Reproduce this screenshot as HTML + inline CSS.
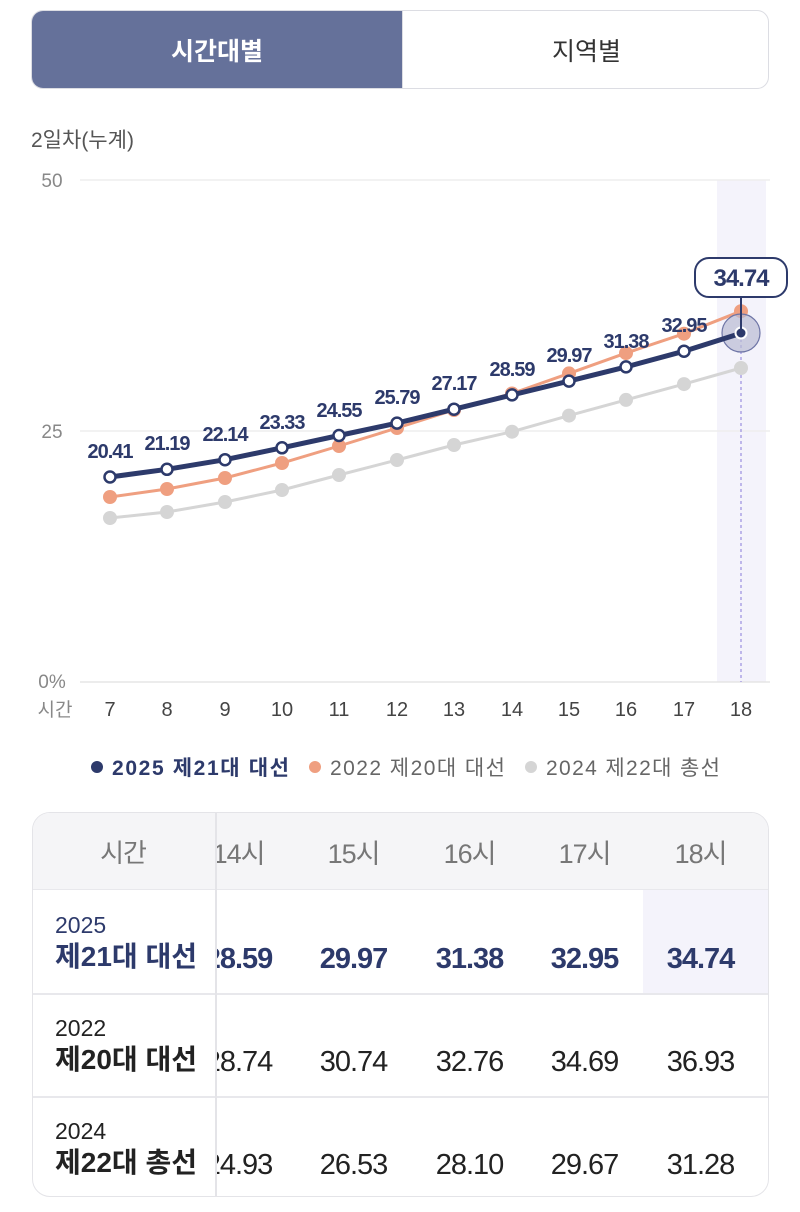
<!DOCTYPE html>
<html><head><meta charset="utf-8"><style>
*{margin:0;padding:0;box-sizing:border-box}
body{width:800px;height:1212px;background:#fff;font-family:"Liberation Sans","Noto Sans CJK KR",sans-serif;position:relative;overflow:hidden}
.abs{position:absolute}
.tabs{left:31px;top:10px;width:738px;height:79px;border:1px solid #dcdde3;border-radius:12px;overflow:hidden}
.tab{position:absolute;top:0;height:100%;display:flex;align-items:center;justify-content:center;font-size:25px}
.tbl{left:32px;top:812px;width:737px;height:385px;border:1.5px solid #e4e4e8;border-radius:18px;overflow:hidden}
.cell{position:absolute;display:flex;align-items:center;justify-content:center;font-size:29px;color:#222;letter-spacing:-1px}
.rowl{position:absolute;left:22px;font-size:23px;line-height:32px}
</style></head><body>
<div class="abs tabs">
 <div class="tab" style="left:0;width:370px;background:#65719a;color:#fff;font-weight:bold">시간대별</div>
 <div class="tab" style="left:370px;width:368px;color:#333;border-left:1px solid #dcdde3">지역별</div>
</div>
<div class="abs" style="left:31px;top:124px;font-size:21px;color:#555">2일차(누계)</div>
<svg class="abs" style="left:0;top:0" width="800" height="800">
 <rect x="717" y="180" width="49" height="502" fill="#f4f3fb"/>
 <line x1="80" y1="180" x2="770" y2="180" stroke="#eee" stroke-width="1.5"/>
 <line x1="80" y1="431" x2="770" y2="431" stroke="#eee" stroke-width="1.5"/>
 <line x1="80" y1="682" x2="770" y2="682" stroke="#e5e5e5" stroke-width="1.5"/>
 <g font-size="19" fill="#888">
  <text x="52" y="187" text-anchor="middle">50</text>
  <text x="52" y="438" text-anchor="middle">25</text>
  <text x="52" y="688" text-anchor="middle">0%</text>
  <text x="55" y="716" text-anchor="middle">시간</text>
 </g>
 <g font-size="20" fill="#444" text-anchor="middle">
  <text x="110" y="716">7</text><text x="167" y="716">8</text><text x="225" y="716">9</text><text x="282" y="716">10</text><text x="339" y="716">11</text><text x="397" y="716">12</text><text x="454" y="716">13</text><text x="512" y="716">14</text><text x="569" y="716">15</text><text x="626" y="716">16</text><text x="684" y="716">17</text><text x="741" y="716">18</text>
 </g>
 <line x1="741" y1="333" x2="741" y2="682" stroke="#9a8fe0" stroke-width="1.2" stroke-dasharray="3,3"/>
 <polyline fill="none" stroke="#d5d5d5" stroke-width="3" points="110,518 167,512 225,502 282,490 339,475 397,460 454,445 512,431.7 569,415.6 626,399.9 684,384.1 741,368"/>
 <g fill="#d5d5d5"><circle cx="110" cy="518" r="7"/><circle cx="167" cy="512" r="7"/><circle cx="225" cy="502" r="7"/><circle cx="282" cy="490" r="7"/><circle cx="339" cy="475" r="7"/><circle cx="397" cy="460" r="7"/><circle cx="454" cy="445" r="7"/><circle cx="512" cy="431.7" r="7"/><circle cx="569" cy="415.6" r="7"/><circle cx="626" cy="399.9" r="7"/><circle cx="684" cy="384.1" r="7"/><circle cx="741" cy="368" r="7"/></g>
 <polyline fill="none" stroke="#ef9f80" stroke-width="3" points="110,497 167,489 225,478 282,463 339,446 397,428 454,410 512,393.5 569,373.4 626,353.1 684,333.7 741,311.2"/>
 <g fill="#ef9f80"><circle cx="110" cy="497" r="7"/><circle cx="167" cy="489" r="7"/><circle cx="225" cy="478" r="7"/><circle cx="282" cy="463" r="7"/><circle cx="339" cy="446" r="7"/><circle cx="397" cy="428" r="7"/><circle cx="454" cy="410" r="7"/><circle cx="512" cy="393.5" r="7"/><circle cx="569" cy="373.4" r="7"/><circle cx="626" cy="353.1" r="7"/><circle cx="684" cy="333.7" r="7"/><circle cx="741" cy="311.2" r="7"/></g>
 <circle cx="741" cy="333" r="19" fill="#b9bbd3" fill-opacity="0.7" stroke="#6e75a6" stroke-width="1.2"/>
 <polyline fill="none" stroke="#2d3a6b" stroke-width="5" points="110,477 167,469.3 225,459.7 282,447.8 339,435.5 397,423.1 454,409.2 512,394.9 569,381.1 626,366.9 684,351.2 741,333.2"/>
 <g fill="#fff" stroke="#2d3a6b" stroke-width="2.5"><circle cx="110" cy="477" r="5.5"/><circle cx="167" cy="469.3" r="5.5"/><circle cx="225" cy="459.7" r="5.5"/><circle cx="282" cy="447.8" r="5.5"/><circle cx="339" cy="435.5" r="5.5"/><circle cx="397" cy="423.1" r="5.5"/><circle cx="454" cy="409.2" r="5.5"/><circle cx="512" cy="394.9" r="5.5"/><circle cx="569" cy="381.1" r="5.5"/><circle cx="626" cy="366.9" r="5.5"/><circle cx="684" cy="351.2" r="5.5"/></g>
 <circle cx="741" cy="333" r="5.5" fill="#2d3a6b" stroke="#fff" stroke-width="2"/>
 <g font-size="20" font-weight="bold" fill="#2d3a6b" text-anchor="middle" letter-spacing="-1">
  <text x="110" y="458">20.41</text><text x="167" y="450">21.19</text><text x="225" y="441">22.14</text><text x="282" y="429">23.33</text><text x="339" y="417">24.55</text><text x="397" y="404">25.79</text><text x="454" y="390">27.17</text><text x="512" y="376">28.59</text><text x="569" y="362">29.97</text><text x="626" y="348">31.38</text><text x="684" y="332">32.95</text>
 </g>
 <line x1="741" y1="297" x2="741" y2="333" stroke="#2d3a6b" stroke-width="2"/>
 <rect x="695" y="258" width="92" height="39" rx="14" fill="#fff" stroke="#2d3a6b" stroke-width="2"/>
 <text x="741" y="286" font-size="24" font-weight="bold" fill="#2d3a6b" text-anchor="middle" letter-spacing="-1">34.74</text>
 <g font-size="21">
  <circle cx="97" cy="767" r="6" fill="#2d3a6b"/><text x="112" y="775" fill="#2d3a6b" font-weight="bold" textLength="177">2025 제21대 대선</text>
  <circle cx="315" cy="767" r="6" fill="#ef9f80"/><text x="330" y="775" fill="#666" textLength="175">2022 제20대 대선</text>
  <circle cx="531" cy="767" r="6" fill="#d5d5d5"/><text x="546" y="775" fill="#666" textLength="174">2024 제22대 총선</text>
 </g>
</svg>
<div class="abs tbl">
 <div class="abs" style="left:0;top:0;width:737px;height:77px;background:#f5f5f7;border-bottom:1.5px solid #e8e8ec"></div>
 <div class="abs" style="left:610px;top:77px;width:127px;height:103px;background:#f4f3fb"></div>
 <div class="abs" style="left:0;top:180px;width:737px;height:1.5px;background:#e8e8ec"></div>
 <div class="abs" style="left:0;top:283px;width:737px;height:1.5px;background:#e8e8ec"></div>
 <div class="abs" style="left:182px;top:0;width:1.5px;height:385px;background:#e4e4e8"></div>
 <div class="cell" style="left:20px;top:0;width:140px;height:77px;color:#777;font-size:26px">시간</div>
 <div class="abs" style="left:184px;top:0;width:553px;height:385px;overflow:hidden">
  <div style="position:relative;left:-251px;width:804px;height:385px">
   <div class="cell" style="left:215px;top:0;width:115px;height:77px;color:#777;font-size:27px">14시</div>
   <div class="cell" style="left:330px;top:0;width:115px;height:77px;color:#777;font-size:27px">15시</div>
   <div class="cell" style="left:446px;top:0;width:115px;height:77px;color:#777;font-size:27px">16시</div>
   <div class="cell" style="left:561px;top:0;width:115px;height:77px;color:#777;font-size:27px">17시</div>
   <div class="cell" style="left:677px;top:0;width:115px;height:77px;color:#777;font-size:27px">18시</div>
   <div style="position:absolute;top:126px;left:0;width:900px;height:40px;font-weight:bold">
    <div class="cell" style="left:215px;width:115px;height:40px;color:#2d3a6b">28.59</div>
    <div class="cell" style="left:330px;width:115px;height:40px;color:#2d3a6b">29.97</div>
    <div class="cell" style="left:446px;width:115px;height:40px;color:#2d3a6b">31.38</div>
    <div class="cell" style="left:561px;width:115px;height:40px;color:#2d3a6b">32.95</div>
    <div class="cell" style="left:677px;width:115px;height:40px;color:#2d3a6b">34.74</div>
   </div>
   <div style="position:absolute;top:229px;left:0;width:900px;height:40px">
    <div class="cell" style="left:215px;width:115px;height:40px">28.74</div>
    <div class="cell" style="left:330px;width:115px;height:40px">30.74</div>
    <div class="cell" style="left:446px;width:115px;height:40px">32.76</div>
    <div class="cell" style="left:561px;width:115px;height:40px">34.69</div>
    <div class="cell" style="left:677px;width:115px;height:40px">36.93</div>
   </div>
   <div style="position:absolute;top:332px;left:0;width:900px;height:40px">
    <div class="cell" style="left:215px;width:115px;height:40px">24.93</div>
    <div class="cell" style="left:330px;width:115px;height:40px">26.53</div>
    <div class="cell" style="left:446px;width:115px;height:40px">28.10</div>
    <div class="cell" style="left:561px;width:115px;height:40px">29.67</div>
    <div class="cell" style="left:677px;width:115px;height:40px">31.28</div>
   </div>
  </div>
 </div>
 <div class="rowl" style="top:96px;color:#2d3a6b">2025<br><b style="font-size:28px">제21대 대선</b></div>
 <div class="rowl" style="top:199px;color:#222">2022<br><b style="font-size:28px">제20대 대선</b></div>
 <div class="rowl" style="top:302px;color:#222">2024<br><b style="font-size:28px">제22대 총선</b></div>
</div>
</body></html>
